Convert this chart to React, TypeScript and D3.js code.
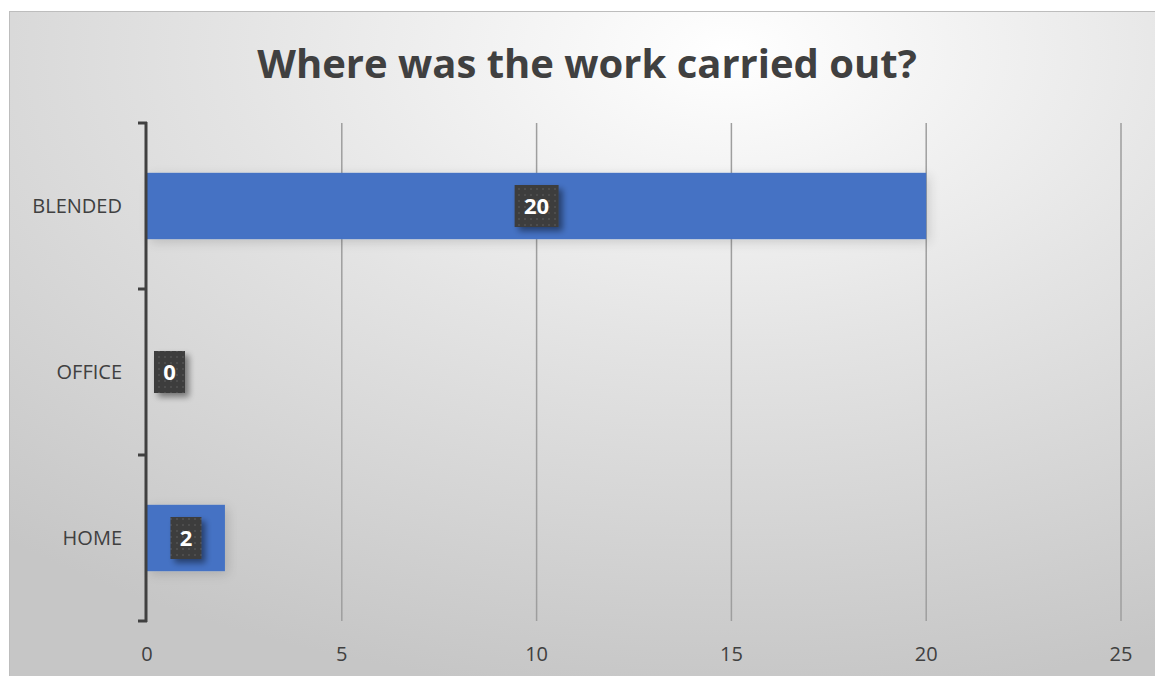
import React from "react";
import * as d3 from "d3";

const categories = ["BLENDED", "OFFICE", "HOME"];
const values = [20, 0, 2];
const xTicks = [0, 5, 10, 15, 20, 25];
const title = "Where was the work carried out?";

const W = 1155;
const H = 676;
const font = "'Open Sans', 'Liberation Sans', sans-serif";

export default function App() {
  const x = d3.scaleLinear().domain([0, 25]).range([147, 1121]);
  const y = d3.scaleBand().domain(categories).range([123, 621]).paddingInner(0.6).paddingOuter(0.3);
  const band = d3.scaleBand().domain(categories).range([123, 621]);
  const bounds = [123, ...categories.map((c) => (band(c) as number) + band.bandwidth())];

  return (
    <svg width={W} height={H} style={{ position: "absolute", left: 0, top: 0 }}>
      <defs>
        <radialGradient id="bg" cx="0.62" cy="0.06" r="0.95" fx="0.62" fy="0.06" gradientUnits="objectBoundingBox">
          <stop offset="0" stopColor="#ffffff" />
          <stop offset="0.45" stopColor="#e4e4e4" />
          <stop offset="1" stopColor="#c6c6c6" />
        </radialGradient>
        <filter id="barShadow" x="-10%" y="-40%" width="125%" height="180%">
          <feGaussianBlur in="SourceAlpha" stdDeviation="6" />
          <feOffset dx="3" dy="3" result="b" />
          <feComponentTransfer>
            <feFuncA type="linear" slope="0.15" />
          </feComponentTransfer>
          <feMerge>
            <feMergeNode />
            <feMergeNode in="SourceGraphic" />
          </feMerge>
        </filter>
        <filter id="boxShadow" x="-40%" y="-40%" width="190%" height="190%">
          <feGaussianBlur in="SourceAlpha" stdDeviation="3" />
          <feOffset dx="4" dy="4" />
          <feComponentTransfer>
            <feFuncA type="linear" slope="0.45" />
          </feComponentTransfer>
          <feMerge>
            <feMergeNode />
            <feMergeNode in="SourceGraphic" />
          </feMerge>
        </filter>
        <pattern id="dots" width="6" height="6" patternUnits="userSpaceOnUse">
          <rect width="6" height="6" fill="#3d3d3d" />
          <circle cx="3" cy="3" r="1" fill="#525252" />
        </pattern>
      </defs>
      <rect x={9.5} y={11.5} width={1160} height={680} fill="url(#bg)" stroke="#bdbdbd" strokeWidth={1} />
      <text x={587} y={78} textAnchor="middle" fontFamily={font} fontWeight={700} fontSize={40} fill="#404040">
        {title}
      </text>
      {xTicks.filter((t) => t > 0).map((t) => (
        <line key={t} x1={x(t)} x2={x(t)} y1={123} y2={621} stroke="#9e9e9e" strokeWidth={1.5} />
      ))}
      {categories.map((c, i) => (
        <rect
          key={c}
          x={x(0)}
          y={y(c)}
          width={x(values[i]) - x(0)}
          height={y.bandwidth()}
          fill="#4472c4"
          filter={values[i] > 0 ? "url(#barShadow)" : undefined}
        />
      ))}
      <line x1={146} x2={146} y1={122} y2={622} stroke="#404040" strokeWidth={3} />
      {bounds.map((b, i) => (
        <line key={i} x1={138} x2={147} y1={b} y2={b} stroke="#404040" strokeWidth={3} />
      ))}
      {categories.map((c) => (
        <text
          key={c}
          x={122}
          y={(band(c) as number) + band.bandwidth() / 2}
          dy="0.35em"
          textAnchor="end"
          fontFamily={font}
          fontSize={20}
          fill="#404040"
        >
          {c}
        </text>
      ))}
      {xTicks.map((t) => (
        <text key={t} x={x(t)} y={661} textAnchor="middle" fontFamily={font} fontSize={20} fill="#404040">
          {t}
        </text>
      ))}
      {categories.map((c, i) => {
        const label = String(values[i]);
        const bw = label.length > 1 ? 44 : 31;
        const bh = 42;
        const cx = Math.max((x(0) + x(values[i])) / 2, x(0) + bw / 2 + 7);
        const cy = (y(c) as number) + y.bandwidth() / 2;
        return (
          <g key={c}>
            <rect x={cx - bw / 2} y={cy - bh / 2} width={bw} height={bh} fill="url(#dots)" filter="url(#boxShadow)" />
            <text x={cx} y={cy} dy="0.36em" textAnchor="middle" fontFamily={font} fontWeight={700} fontSize={22} fill="#ffffff">
              {label}
            </text>
          </g>
        );
      })}
    </svg>
  );
}
